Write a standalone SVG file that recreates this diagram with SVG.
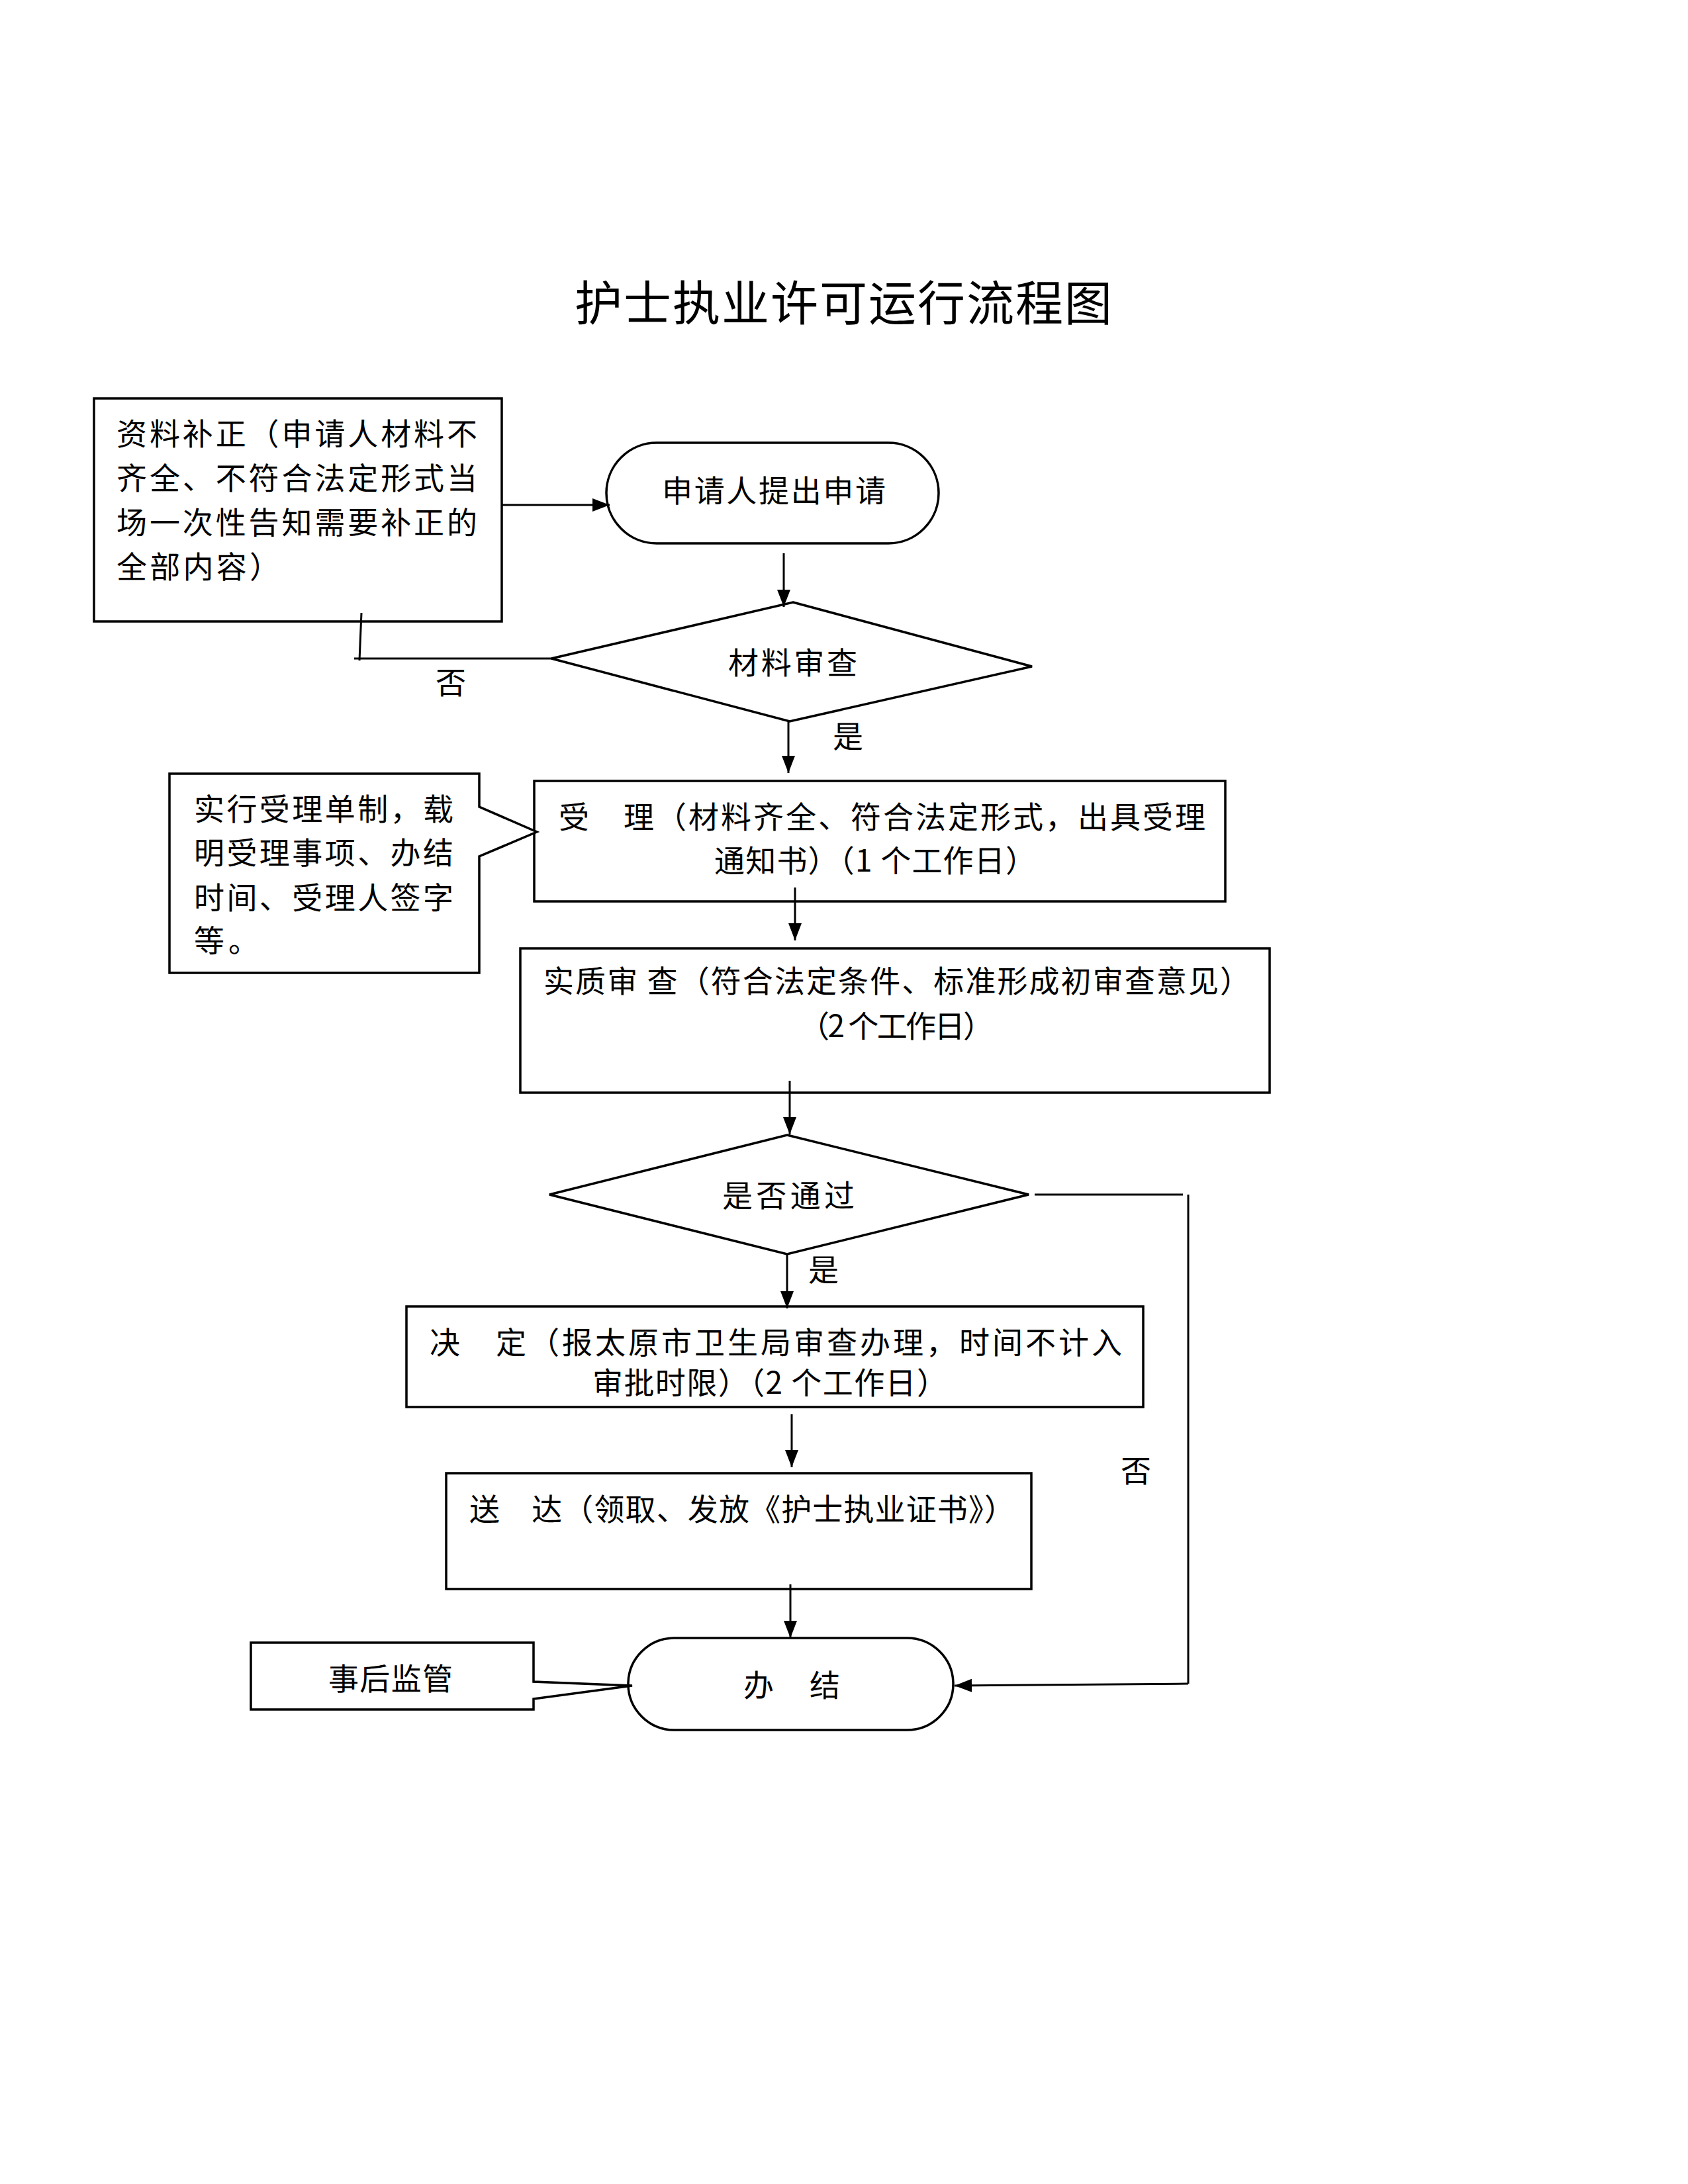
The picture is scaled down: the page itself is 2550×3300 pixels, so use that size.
<svg xmlns="http://www.w3.org/2000/svg" width="2550" height="3300" viewBox="0 0 2550 3300">
<style>
.s{fill:none;stroke:#000;stroke-width:3.5}
.sf{fill:#fff;stroke:#000;stroke-width:3.5}
.t{font-family:"Noto Sans CJK SC","Noto Sans CJK JP",sans-serif;font-size:46px;fill:#000}
.c{text-anchor:middle}
.title{font-family:"Noto Sans CJK SC","Noto Sans CJK JP",sans-serif;font-size:72px;fill:#000}
.l{fill:none;stroke:#000;stroke-width:3}
</style>
<defs>
<marker id="ah" markerUnits="userSpaceOnUse" markerWidth="28" markerHeight="22" refX="26" refY="10" orient="auto">
<path d="M0,0 L26,10 L0,20 z" fill="#000"/>
</marker>
</defs>
<rect width="2550" height="3300" fill="#fff"/>
<text class="title" x="868" y="484" textLength="812" lengthAdjust="spacing">护士执业许可运行流程图</text>

<g id="n-buzheng">
<rect class="sf" x="142" y="602" width="616" height="337"/>
<text class="t" x="176" y="672" textLength="545" lengthAdjust="spacing">资料补正（申请人材料不</text>
<text class="t" x="176" y="739" textLength="545" lengthAdjust="spacing">齐全、不符合法定形式当</text>
<text class="t" x="176" y="806" textLength="545" lengthAdjust="spacing">场一次性告知需要补正的</text>
<text class="t" x="176" y="873" textLength="247" lengthAdjust="spacing">全部内容）</text>
</g>

<g id="n-shenqing">
<rect class="sf" x="916" y="669" width="502" height="152" rx="76" ry="76"/>
<text class="t" x="1000" y="758" textLength="338" lengthAdjust="spacing">申请人提出申请</text>
</g>

<g id="n-cailiao">
<polygon class="sf" points="1198,910 1559,1007 1193,1090 833,995"/>
<text class="t" x="1100" y="1018" textLength="195" lengthAdjust="spacing">材料审查</text>
</g>

<g id="n-shouli">
<rect class="sf" x="807" y="1180" width="1044" height="182"/>
<text class="t" x="844" y="1251" textLength="977" lengthAdjust="spacing">受　理（材料齐全、符合法定形式，出具受理</text>
<text class="t" x="1079" y="1317" textLength="486" lengthAdjust="spacing">通知书）（1 个工作日）</text>
</g>

<g id="n-danzhi">
<polygon class="sf" points="256,1169 724,1169 724,1219 811,1257 724,1294 724,1470 256,1470"/>
<text class="t" x="293" y="1239" textLength="392" lengthAdjust="spacing">实行受理单制，载</text>
<text class="t" x="293" y="1305" textLength="392" lengthAdjust="spacing">明受理事项、办结</text>
<text class="t" x="293" y="1373" textLength="392" lengthAdjust="spacing">时间、受理人签字</text>
<text class="t" x="293" y="1438" textLength="98" lengthAdjust="spacing">等。</text>
</g>

<g id="n-shizhi">
<rect class="sf" x="786" y="1433" width="1132" height="218"/>
<text class="t" x="821" y="1499" textLength="1068" lengthAdjust="spacing">实质审 查（符合法定条件、标准形成初审查意见）</text>
<text class="t" x="1207" y="1567" textLength="294" lengthAdjust="spacing">（2 个工作日）</text>
</g>

<g id="n-tongguo">
<polygon class="sf" points="1189,1715 1554,1805 1189,1895 830,1805"/>
<text class="t" x="1091" y="1823" textLength="200" lengthAdjust="spacing">是否通过</text>
</g>

<g id="n-jueding">
<rect class="sf" x="614" y="1974" width="1113" height="152"/>
<text class="t" x="649" y="2045" textLength="1046" lengthAdjust="spacing">决　定（报太原市卫生局审查办理，时间不计入</text>
<text class="t" x="895" y="2106" textLength="536" lengthAdjust="spacing">审批时限）（2 个工作日）</text>
</g>

<g id="n-songda">
<rect class="sf" x="674" y="2226" width="884" height="175"/>
<text class="t" x="709" y="2297" textLength="824" lengthAdjust="spacing">送　达（领取、发放《护士执业证书》）</text>
</g>

<g id="n-banjie">
<rect class="sf" x="949" y="2475" width="491" height="139" rx="70" ry="70"/>
<text class="t" x="1123" y="2563" textLength="146" lengthAdjust="spacing">办　结</text>
</g>

<g id="n-jianguan">
<polygon class="sf" points="379,2482 806,2482 806,2541 955,2547 806,2567 806,2583 379,2583"/>
<text class="t" x="496" y="2553" textLength="188" lengthAdjust="spacing">事后监管</text>
</g>

<g id="connectors">
<line class="l" x1="758" y1="763" x2="921" y2="763" marker-end="url(#ah)"/>
<line class="l" x1="1184" y1="836" x2="1184" y2="917" marker-end="url(#ah)"/>
<line class="l" x1="833" y1="995" x2="535" y2="995"/>
<line class="l" x1="546" y1="926" x2="543" y2="998"/>
<line class="l" x1="1191" y1="1090" x2="1191" y2="1168" marker-end="url(#ah)"/>
<line class="l" x1="1201" y1="1341" x2="1201" y2="1421" marker-end="url(#ah)"/>
<line class="l" x1="1193" y1="1633" x2="1193" y2="1714" marker-end="url(#ah)"/>
<line class="l" x1="1189" y1="1895" x2="1189" y2="1977" marker-end="url(#ah)"/>
<line class="l" x1="1196" y1="2137" x2="1196" y2="2217" marker-end="url(#ah)"/>
<line class="l" x1="1194" y1="2394" x2="1194" y2="2475" marker-end="url(#ah)"/>
<line class="l" x1="1563" y1="1805" x2="1787" y2="1805"/>
<line class="l" x1="1795" y1="1805" x2="1795" y2="2544"/>
<line class="l" x1="1795" y1="2544" x2="1442" y2="2547" marker-end="url(#ah)"/>
<text class="t c" x="681" y="1048">否</text>
<text class="t c" x="1281" y="1129">是</text>
<text class="t c" x="1244" y="1935">是</text>
<text class="t c" x="1716" y="2239">否</text>
</g>
</svg>
